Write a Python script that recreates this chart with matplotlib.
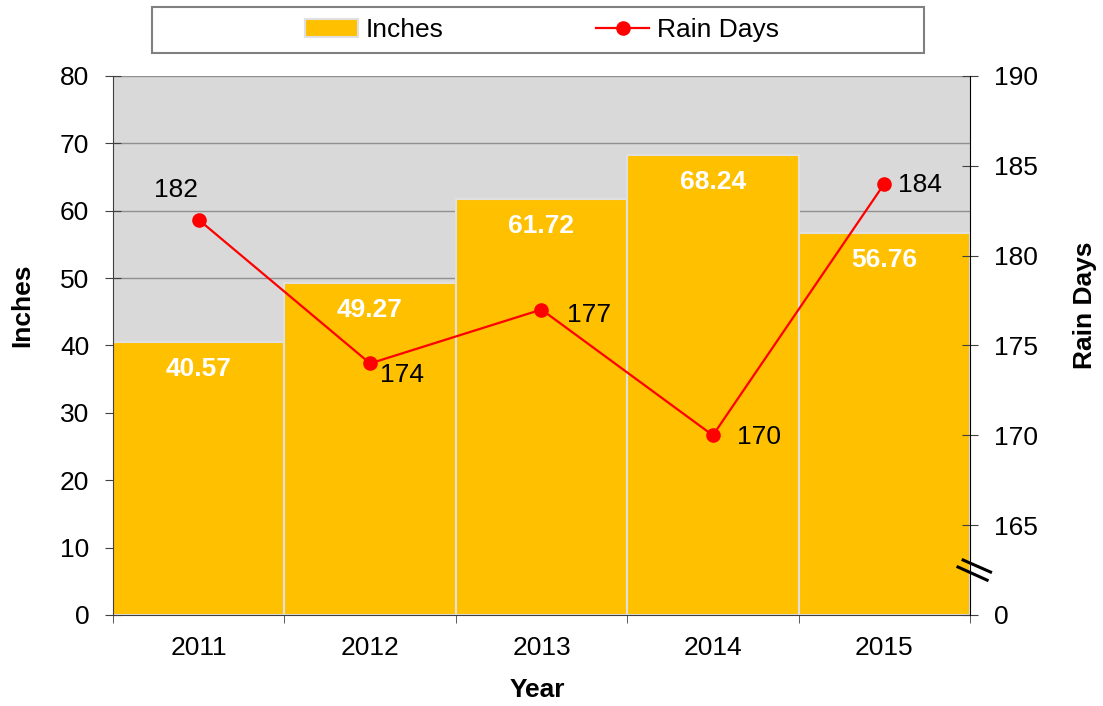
import matplotlib.pyplot as plt
from matplotlib.patches import Rectangle
import numpy as np

years = ['2011', '2012', '2013', '2014', '2015']
inches = [40.57, 49.27, 61.72, 68.24, 56.76]
rain_days = [182, 174, 177, 170, 184]
right_ticks = [160, 165, 170, 175, 180, 185, 190]
right_labels = ['0', '165', '170', '175', '180', '185', '190']

plt.rcParams['font.family'] = ['Liberation Sans', 'DejaVu Sans']
FS = 19

fig = plt.figure(figsize=(11.03, 7.06), dpi=100)
ax = fig.add_axes([0.1024, 0.1289, 0.777, 0.7635])
ax.set_facecolor('#D9D9D9')

x = np.arange(len(years))
bars = ax.bar(x, inches, width=1.0, color='#FFC000', edgecolor='#E0E0E0',
              linewidth=1.5, zorder=2, label='Inches')
ax.set_xlim(-0.5, len(years) - 0.5)
ax.set_ylim(0, 80)
ax.set_yticks(range(0, 81, 10))
ax.yaxis.grid(True, color='#909090', linewidth=1, zorder=1)
ax.set_axisbelow(True)

for xi, v in zip(x, inches):
    ax.text(xi, v - 4, f'{v:.2f}', ha='center', va='center', color='white',
            fontsize=FS, fontweight='bold', zorder=5)

ax.set_xticks(x)
ax.set_xticklabels(years)
ax.set_xticks(np.arange(-0.5, len(years)), minor=True)
ax.tick_params(axis='x', which='major', length=0, pad=15, labelsize=FS)
ax.tick_params(axis='x', which='minor', length=12, direction='inout', color='#404040')
ax.tick_params(axis='y', length=12, direction='inout', pad=11, labelsize=FS, color='#404040')

for s in ['top', 'right']:
    ax.spines[s].set_visible(False)
ax.spines['left'].set_color('#404040')
ax.spines['bottom'].set_color('#404040')

ax.set_ylabel('Inches', fontsize=FS, fontweight='bold', ha='center', va='center')
ax.yaxis.set_label_coords(-0.1062, 0.575)
ax.set_xlabel('Year', fontsize=FS, fontweight='bold', ha='center', va='center')
ax.xaxis.set_label_coords(0.495, -0.139)

ax2 = ax.twinx()
line, = ax2.plot(x, rain_days, color='red', linewidth=1.6, marker='o',
                 markersize=9.5, zorder=4, label='Rain Days')
ax2.set_ylim(160, 190)
ax2.set_yticks(right_ticks)
ax2.set_yticklabels(right_labels)
ax2.tick_params(axis='y', length=12, direction='inout', pad=11, labelsize=FS, color='#404040')
for s in ['top', 'left', 'bottom']:
    ax2.spines[s].set_visible(False)
ax2.spines['right'].set_color('black')
ax2.set_ylabel('Rain Days', fontsize=FS, fontweight='bold', ha='center', va='center')
ax2.yaxis.set_label_coords(1.134, 0.575)

offsets = [(-16, 21.5), (23, -8), (34, -4), (33, -1), (26, -1)]
for xi, v, (dx, dy) in zip(x, rain_days, offsets):
    ax2.annotate(str(v), (xi, v), xytext=(dx, dy), textcoords='offset points',
                 ha='center', va='center', fontsize=FS, zorder=5)

# axis break marks on the right axis
ax2.plot([4.46, 4.62], [163.06, 162.39], color='black', linewidth=2.2,
         clip_on=False, zorder=6)
ax2.plot([4.43, 4.60], [162.67, 161.94], color='black', linewidth=2.2,
         clip_on=False, zorder=6)

# legend box across the top
fig.patches.append(Rectangle((0.1378, 0.9249), 0.6999, 0.0652,
                             transform=fig.transFigure, facecolor='white',
                             edgecolor='#808080', linewidth=1.5))
leg = fig.legend(handles=[bars, line], labels=['Inches', 'Rain Days'],
                 loc='center', bbox_to_anchor=(0.4914, 0.9575),
                 ncol=2, fontsize=FS, frameon=False, columnspacing=5.8,
                 handlelength=2.0, handletextpad=0.3)

fig.savefig('out.png', dpi=100)
